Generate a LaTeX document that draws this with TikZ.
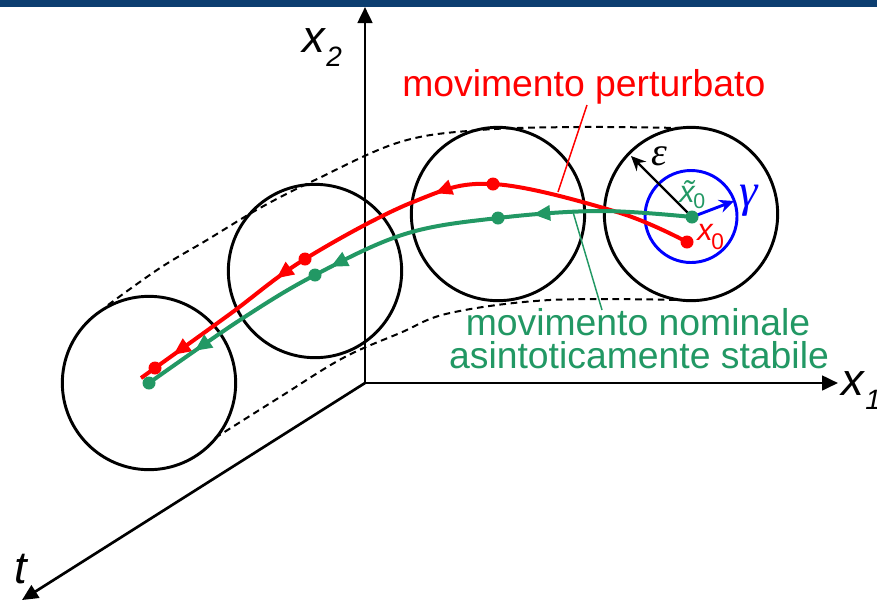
\documentclass[tikz,border=0pt]{standalone}
\usepackage{fontspec}
\setmainfont{Liberation Sans}
\newfontfamily\grkfont{Liberation Serif}
\usetikzlibrary{arrows.meta,decorations.markings}
\definecolor{nomgreen}{RGB}{34,152,100}
\definecolor{barblue}{RGB}{12,62,112}
\tikzset{
  ring/.style={draw=black, line width=2.2pt, circle, minimum size=130pt, inner sep=0pt},
  bluering/.style={draw=blue, line width=2.2pt, circle, minimum size=69pt, inner sep=0pt},
  rdot/.style={circle, fill=red, minimum size=9.75pt, inner sep=0pt},
  gdot/.style={circle, fill=nomgreen, minimum size=9.75pt, inner sep=0pt},
  envelope/.style={line width=1.5pt, dash pattern=on 5pt off 3.5pt},
  axisline/.style={line width=2pt, -{Triangle[length=12pt,width=11pt]}},
  redtraj/.style={red, line width=3pt, postaction=decorate, decoration={markings,
      mark=at position 0.43 with {\arrow{Triangle[length=13pt,width=11pt]}},
      mark=at position 0.725 with {\arrow{Triangle[length=13pt,width=11pt]}},
      mark=at position 0.935 with {\arrow{Triangle[length=13pt,width=11pt]}}}},
  greentraj/.style={nomgreen, line width=3pt, postaction=decorate, decoration={markings,
      mark=at position 0.272 with {\arrow{Triangle[length=13pt,width=11pt]}},
      mark=at position 0.632 with {\arrow{Triangle[length=13pt,width=11pt]}},
      mark=at position 0.905 with {\arrow{Triangle[length=13pt,width=11pt]}}}},
  lbl/.style={font=\fontsize{28}{25}\selectfont, inner sep=0pt},
  axlbl/.style={font=\fontsize{34}{34}\selectfont\itshape, inner sep=0pt},
  grklbl/.style={font=\fontsize{30}{30}\selectfont\grkfont\itshape, inner sep=0pt},
  leader/.style={line width=1.1pt},
}
\begin{document}
\begin{tikzpicture}[x=0.75pt,y=-0.75pt]
\useasboundingbox (0,0) rectangle (877,601);
% dashed envelopes
\draw[envelope] plot[smooth, tension=0.6] coordinates {(108,305) (160,268) (207,240) (260,208) (315,180) (400,142) (480,130) (580,127) (680,128)};
\draw[envelope] plot[smooth, tension=0.6] coordinates {(215,438) (280,397) (343,358) (400,333) (450,313) (550,300) (680,300)};
% circles
\node[ring] (c1) at (149,383) {};
\node[ring] (c2) at (315,271) {};
\node[ring] (c3) at (498,214) {};
\node[ring] (c4) at (691,214) {};
\node[bluering] (cb) at (691,216.5) {};
% axes
\coordinate (O) at (365,383);
\coordinate (x2tip) at (365,7);
\coordinate (x1tip) at (838,383);
\coordinate (ttip) at (22,600);
\draw[axisline] (O) -- (x2tip);
\draw[axisline] (O) -- (x1tip);
\draw[axisline] (O) -- (ttip);
% points
\coordinate (r0) at (687,242);
\coordinate (rd3) at (493,184);
\coordinate (rd2) at (305,259);
\coordinate (rd1) at (155,368);
\coordinate (rend) at (141,378);
\coordinate (g0) at (692,217);
\coordinate (gd3) at (498,218);
\coordinate (gd2) at (315,275);
\coordinate (gd1) at (149,383);
% epsilon and gamma arrows
\coordinate (epstip) at (631,156);
\coordinate (gamtip) at (734,201);
\draw[line width=1.7pt, -{Stealth[length=11pt,width=10pt]}] (g0) -- (epstip);
% trajectories
\draw[redtraj] plot[smooth, tension=0.6] coordinates {(r0) (617,212) (rd3) (413,202) (rd2) (230,314) (rd1) (rend)};
\draw[greentraj] plot[smooth, tension=0.6] coordinates {(g0) (600,211) (gd3) (405,234) (gd2) (240,320) (gd1)};
\draw[blue, line width=2.2pt, -{Stealth[length=11pt,width=10pt]}] (g0) -- (gamtip);
% dots
\node[rdot] (dr0) at (r0) {};
\node[rdot] (dr3) at (rd3) {};
\node[rdot] (dr2) at (rd2) {};
\node[rdot] (dr1) at (rd1) {};
\node[gdot] (dg0) at (g0) {};
\node[gdot] (dg3) at (gd3) {};
\node[gdot] (dg2) at (gd2) {};
\node[gdot] (dg1) at (gd1) {};
% leader lines
\coordinate (rl1) at (587,105);
\coordinate (rl2) at (558,192);
\coordinate (gl1) at (573,212);
\coordinate (gl2) at (602,310);
\draw[leader, red] (rl1) -- (rl2);
\draw[leader, nomgreen] (gl1) -- (gl2);
% labels
\node[lbl, text=red, anchor=base west] (lblpert) at (402,96) {movimento perturbato};
\node[lbl, text=nomgreen, anchor=base] (lblnom1) at (638,335) {movimento nominale};
\node[lbl, text=nomgreen, anchor=base] (lblnom2) at (639,368) {asintoticamente stabile};
\node[axlbl, anchor=base west] (lx2) at (302,52) {x\kern1pt\raisebox{-11pt}{\fontsize{21}{21}\selectfont 2}};
\node[axlbl, anchor=base west] (lx1) at (841,395) {x\kern1pt\raisebox{-11pt}{\fontsize{21}{21}\selectfont 1}};
\node[axlbl, anchor=base west] (lt) at (14,583) {t};
\node[grklbl, text=black, anchor=base west] (leps) at (651,165) {ε};
\node[grklbl, text=blue, anchor=base west, font=\fontsize{35}{35}\selectfont\grkfont\itshape] (lgam) at (739,206) {γ};
\node[inner sep=0pt, text=nomgreen, anchor=base west] (lxt) at (679,202) {\fontsize{23}{23}\selectfont\itshape\~{x}\kern-1pt\raisebox{-4.5pt}{\fontsize{16}{16}\selectfont\upshape 0}};
\node[inner sep=0pt, text=red, anchor=base west] (lx0) at (697,240) {\fontsize{23}{23}\selectfont\itshape x\kern-1pt\raisebox{-7pt}{\fontsize{17}{17}\selectfont\upshape 0}};
% top bar
\fill[barblue] (0,0) rectangle (877,7);
\end{tikzpicture}
\end{document}
